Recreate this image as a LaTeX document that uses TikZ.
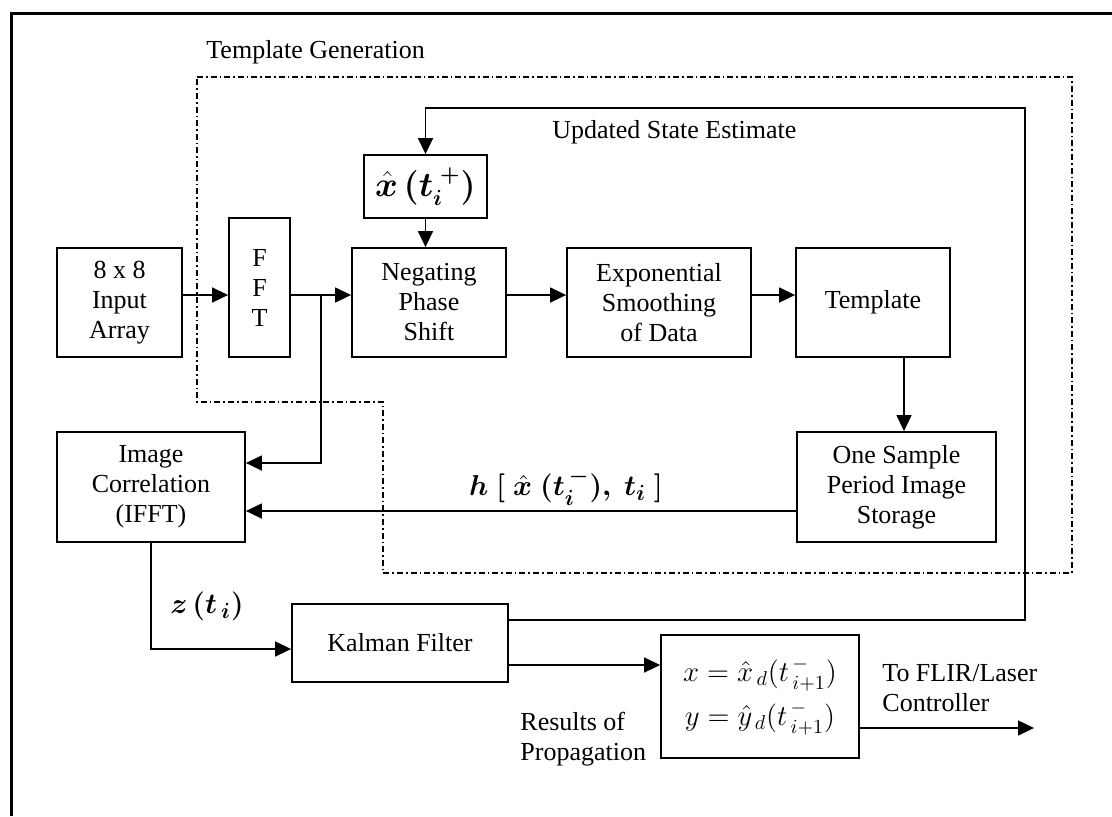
\documentclass[tikz,border=0pt]{standalone}
\usepackage{amsmath}
\usepackage{bm}
\usepackage{fontspec}
\setmainfont{Liberation Serif}
\usetikzlibrary{arrows.meta, calc}

\tikzset{
  blk/.style={draw, line width=0.9pt, align=center, inner sep=2pt,
    font=\fontsize{13}{15}\selectfont},
  lbl/.style={align=left, inner sep=0pt, font=\fontsize{13}{15}\selectfont},
  arr/.style={line width=0.75pt, -{Triangle[length=8pt,width=7.5pt]}},
  grp/.style={line width=0.6pt, dash pattern=on 3pt off 1.5pt on 0.8pt off 1.5pt}
}

\begin{document}
\begin{tikzpicture}[x=0.5pt, y=-0.5pt]
\useasboundingbox (0,0) rectangle (1112,816);
\draw[line width=1.5pt] (11,816) -- (11,13) -- (1112,13);
\draw[grp] (197,77) -- (1072,77) -- (1072,573) -- (383,573) -- (383,402) -- (197,402) -- cycle;

\node[lbl, anchor=west] (tg) at (206,52) {Template Generation};
\node[lbl, anchor=west] (use) at (552,132) {Updated State Estimate};

\node[blk, minimum width=62.5pt, minimum height=54.5pt] (inp) at (119.5,302.5) {8 x 8\\Input\\Array};
\node[blk, minimum width=30.5pt, minimum height=69.5pt] (fft) at (259.5,287.5) {F\\F\\T};
\node[blk, minimum width=61.5pt, minimum height=31.5pt, font=\fontsize{16}{18}\selectfont] (xhat) at (425.5,186.5) {$\bm{\hat{x}\,(t_i^{\;+})}$};
\node[blk, minimum width=77pt, minimum height=54.5pt] (neg) at (429,302.5) {Negating\\Phase\\Shift};
\node[blk, minimum width=92pt, minimum height=54.5pt] (smooth) at (659,302.5) {Exponential\\Smoothing\\of Data};
\node[blk, minimum width=77pt, minimum height=54.5pt] (tmpl) at (873,302.5) {Template};
\node[blk, minimum width=99.5pt, minimum height=55pt] (store) at (896.5,487) {One Sample\\Period Image\\Storage};
\node[blk, minimum width=94pt, minimum height=55pt] (corr) at (151,487) {Image\\Correlation\\(IFFT)};
\node[blk, minimum width=108pt, minimum height=39pt] (kal) at (400,643) {Kalman Filter};
\node[blk, minimum width=99pt, minimum height=61.5pt, font=\fontsize{14.5}{22}\selectfont] (res) at (760,696.5)
  {$x = \hat{x}_{\,d}(t^{\,-}_{\,i+1})$\\$y = \hat{y}_{\,d}(t^{\,-}_{\,i+1})$};

\node[lbl, font=\fontsize{15}{17}\selectfont] (hlab) at (566,487) {$\bm{h\;[\;\hat{x}\;(t_i^{\,-}),\;t_i\;]}$};
\node[lbl, anchor=west, font=\fontsize{15}{17}\selectfont] (zlab) at (170,606) {$\bm{z\,(t_{\,i})}$};
\node[lbl, anchor=west] (rlab) at (520,739) {Results of\\Propagation};
\node[lbl, anchor=west] (flab) at (882,688) {To FLIR/Laser\\Controller};

\coordinate (row) at (0,295);
\coordinate (br) at (321,295);
\coordinate (fb) at (1025,108);
\coordinate (tdown) at (904,0);
\coordinate (ctrl) at (1034,728);
\coordinate (corrin) at ($(corr.east)+(0,-24)$);
\coordinate (hin) at ($(corr.east)+(0,24)$);
\coordinate (kalfb) at ($(kal.east)+(0,-23)$);
\coordinate (kalout) at ($(kal.east)+(0,22)$);

\draw[arr] (row -| inp.east) -- (row -| fft.west);
\draw[arr] (row -| fft.east) -- (row -| neg.west);
\draw[arr] (row -| neg.east) -- (row -| smooth.west);
\draw[arr] (row -| smooth.east) -- (row -| tmpl.west);
\draw[arr] (xhat.south) -- (xhat.south |- neg.north);
\draw[arr] (tdown |- tmpl.south) -- (tdown |- store.north);
\draw[arr] (br) |- (corrin);
\draw[arr] (hin -| store.west) -- (hin);
\draw[arr] (corr.south) |- ($(kal.west)+(0,6)$);
\draw[arr] (kalfb) -| (fb) -| (xhat.north);
\draw[arr] (kalout) -- (kalout -| res.west);
\draw[arr] (ctrl -| res.east) -- (ctrl);
\end{tikzpicture}
\end{document}
